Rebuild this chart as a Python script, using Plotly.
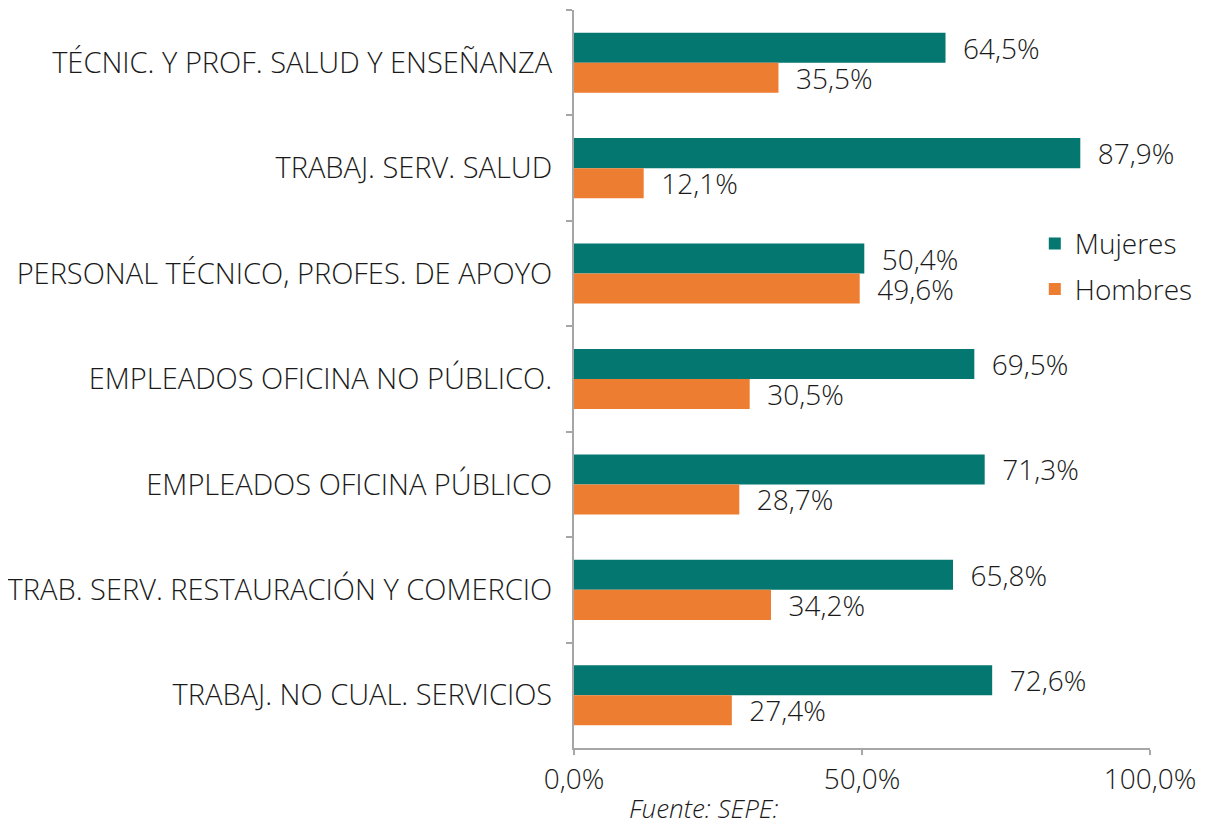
import plotly.graph_objects as go

categories = [
    "TÉCNIC. Y PROF. SALUD Y ENSEÑANZA",
    "TRABAJ. SERV. SALUD",
    "PERSONAL TÉCNICO, PROFES. DE APOYO",
    "EMPLEADOS OFICINA NO PÚBLICO.",
    "EMPLEADOS OFICINA PÚBLICO",
    "TRAB. SERV. RESTAURACIÓN Y COMERCIO",
    "TRABAJ. NO CUAL. SERVICIOS",
]
mujeres = [64.5, 87.9, 50.4, 69.5, 71.3, 65.8, 72.6]
hombres = [35.5, 12.1, 49.6, 30.5, 28.7, 34.2, 27.4]
x_ticks = [0, 50, 100]
x_ticktext = ["0,0%", "50,0%", "100,0%"]

FONT = "Open Sans"
TXT = "#1a1a1a"
FS = 28

# page body has an 8px default margin, so the figure is drawn 8px in from top/left
fig = go.Figure()
fig.add_trace(go.Bar(
    y=categories, x=mujeres, name="Mujeres", orientation="h", legendgroup="m",
    marker=dict(color="#037770", line=dict(width=0)),
    texttemplate="  %{x:.1f}%", textposition="outside", constraintext="none",
    textfont=dict(family=FONT, size=FS, color=TXT, weight=300), cliponaxis=False,
))
fig.add_trace(go.Bar(
    y=categories, x=hombres, name="Hombres", orientation="h", legendgroup="h",
    marker=dict(color="#ED7D31", line=dict(width=0)),
    texttemplate="  %{x:.1f}%", textposition="outside", constraintext="none",
    textfont=dict(family=FONT, size=FS, color=TXT, weight=300), cliponaxis=False,
))

fig.update_layout(
    width=1200, height=817,
    margin=dict(l=566, r=58, t=2, b=77, autoexpand=False),
    paper_bgcolor="white", plot_bgcolor="white",
    barmode="group", bargap=0.43, bargroupgap=0,
    separators=",.",
    font=dict(family=FONT, size=FS, color=TXT, weight=300),
    showlegend=True,
    legend=dict(
        x=0.80, y=0.717, xanchor="left", yanchor="top",
        font=dict(family=FONT, size=FS, color=TXT, weight=300),
        bgcolor="rgba(0,0,0,0)", itemwidth=30, tracegroupgap=6,
    ),
    xaxis=dict(
        range=[0, 100], tickvals=x_ticks, ticktext=x_ticktext, automargin=False,
        showgrid=False, zeroline=False, showline=True, linecolor="#a6a6a6", linewidth=2,
        ticks="outside", ticklen=5, tickwidth=2, tickcolor="#a6a6a6",
        tickfont=dict(family=FONT, size=FS, color=TXT, weight=300),
    ),
    yaxis=dict(
        autorange="reversed", showgrid=False, zeroline=False, automargin=False,
        showline=True, linecolor="#a6a6a6", linewidth=2,
        ticks="outside", ticklen=6, tickwidth=2, tickcolor="#a6a6a6",
        tickson="boundaries", ticklabelstandoff=14,
        tickfont=dict(family=FONT, size=29, color=TXT, weight=300),
    ),
    annotations=[dict(
        text="<i>Fuente: SEPE:</i>", xref="paper", yref="paper",
        x=0.224, y=-0.108, xanchor="center", yanchor="bottom", showarrow=False,
        font=dict(family=FONT, size=26, color=TXT, weight=300),
    )],
)

fig.write_html("out.html")
